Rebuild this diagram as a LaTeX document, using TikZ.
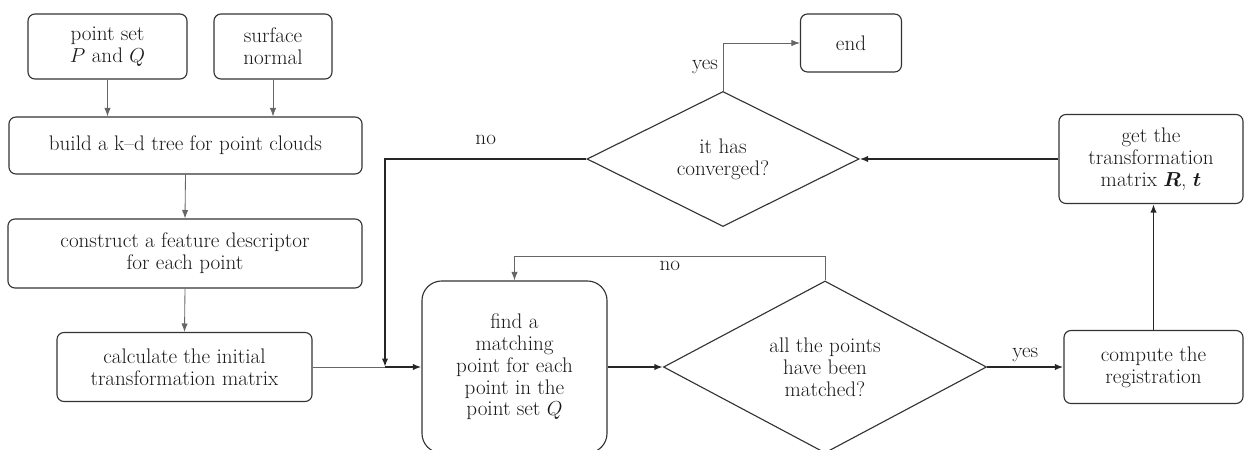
\documentclass[tikz,border=0pt]{standalone}
\usepackage{amsmath,bm}
\usepackage{tikz}
\usetikzlibrary{positioning,arrows.meta,shapes.geometric}

\begin{document}
\begin{tikzpicture}[x=0.025cm,y=-0.025cm,>={Latex[length=6pt,width=4.5pt]},
	every node/.style={font=\fontsize{15}{15.5}\selectfont,align=center,text=black!90},
	box/.style={draw=black!80,line width=0.8pt,rounded corners=5pt,inner sep=2pt},
	decision/.style={draw=black!80,line width=0.8pt,diamond,inner sep=0pt},
	flow/.style={->,draw=black!60,line width=0.6pt},
	mainflow/.style={->,draw=black!85,line width=1.4pt}]
			\useasboundingbox (0,0) rectangle (1244,449);

			\node [box, minimum width=3.975cm, minimum height=1.625cm] (pq) at (107.5,46.5) {point set\\$P$ and $Q$};
			\node [box, minimum width=2.95cm, minimum height=1.625cm] (sn) at (273,46.5) {surface\\normal};
			\node [box, minimum width=8.825cm, minimum height=1.425cm] (kd) at (185.5,145.5) {build a k--d tree for point clouds};
			\node [box, minimum width=8.85cm, minimum height=1.725cm] (feat) at (185,253.5) {construct a feature descriptor\\for each point};
			\node [box, minimum width=6.375cm, minimum height=1.725cm] (init) at (184.5,367) {calculate the initial\\transformation matrix};
			\node [box, rounded corners=14pt, minimum width=4.625cm, minimum height=4.3cm] (find) at (514.5,367) {find a\\matching\\point for each\\point in the\\point set $Q$};
			\node [decision, minimum width=8.075cm, minimum height=4.3cm] (match) at (825,367) {all the points\\have been\\matched?};
			\node [box, minimum width=4.475cm, minimum height=1.825cm] (comp) at (1153.5,367) {compute the\\registration};
			\node [box, minimum width=4.6cm, minimum height=2.225cm] (get) at (1151,159) {get the\\transformation\\matrix $\bm{R}$, $\bm{t}$};
			\node [decision, minimum width=6.8cm, minimum height=3.375cm] (conv) at (723,159) {it has\\converged?};
			\node [box, minimum width=2.525cm, minimum height=1.45cm] (end) at (851,43) {end};
			\coordinate (join) at (385,367);

			\draw[flow] (pq.south) -- (pq.south |- kd.north);
			\draw[flow] (sn.south) -- (sn.south |- kd.north);
			\draw[flow] (kd.south) -- (feat.north);
			\draw[flow] (feat.south) -- (init.north);
			\draw[flow,-] (init.east) -- (join);
			\draw[mainflow] (conv.west) -| node[pos=.25, above=6pt] {no} (join);
			\draw[mainflow] (join) -- (find.west);
			\draw[mainflow] (find.east) -- (match.west);
			\draw[flow] (match.north) -- ++(0,-24) -| node[pos=.25, below] {no} (find.north);
			\draw[mainflow] (match.east) -- node[above] {yes} (comp.west);
			\draw[mainflow] (comp.north) -- (comp.north |- get.south);
			\draw[mainflow] (get.west) -- (conv.east);
			\draw[flow] (conv.north) |- node[pos=.25, left] {yes} (end.west);
		\end{tikzpicture}
\end{document}
